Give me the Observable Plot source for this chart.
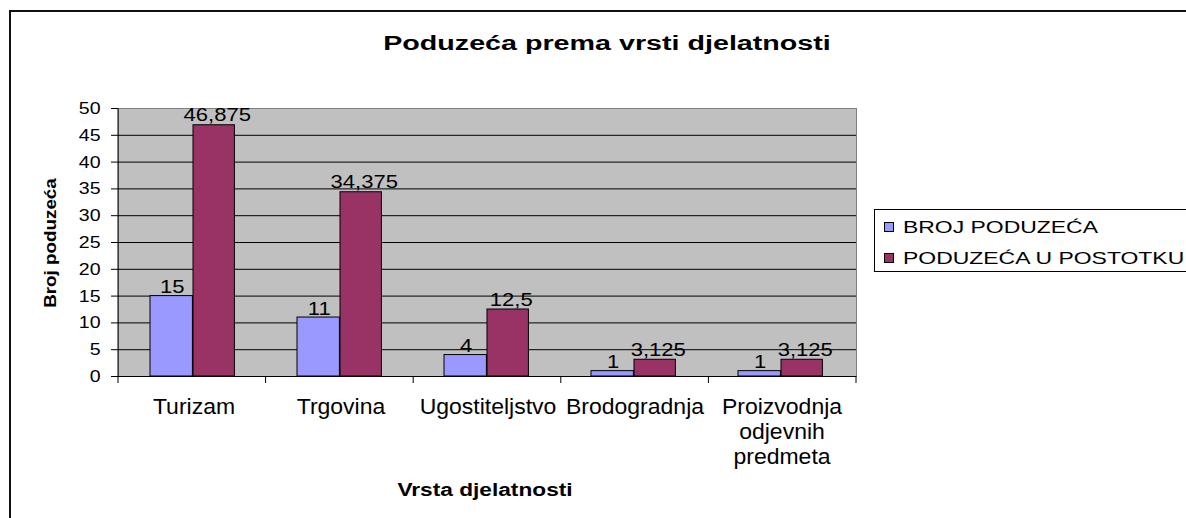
<!DOCTYPE html>
<html>
<head>
<meta charset="utf-8">
<script src="https://cdn.jsdelivr.net/npm/d3@7"></script>
<script src="https://cdn.jsdelivr.net/npm/@observablehq/plot@0.6"></script>
<style>
  html, body { margin: 0; padding: 0; background: #fff; overflow: hidden; }
  #wrap { position: relative; width: 1186px; height: 518px; overflow: hidden;
          font-family: "Liberation Sans", Arial, sans-serif; color: #000; background: #fff; }
  #wrap svg { position: absolute; left: 0; top: 0; }
  .border { position: absolute; left: 9px; top: 10px; width: 1400px; height: 800px;
            border: 2px solid #111; box-sizing: border-box; pointer-events: none; }
  .ttl { position: absolute; white-space: nowrap; line-height: normal; font-weight: bold; }
  .legend { position: absolute; left: 874px; top: 209px; width: 420px; height: 63px;
            border: 1px solid #000; box-sizing: border-box; background: #fff; }
  .lrow { position: absolute; left: 0; height: 18px; line-height: 18px; white-space: nowrap; font-size: 16.5px; }
  .sw { position: absolute; left: 9px; top: 4px; width: 8px; height: 8px; border: 1px solid #000; }
  .lt { position: absolute; left: 28px; top: 0; transform: scaleX(1.39); transform-origin: left center; }
</style>
</head>
<body>
<div id="wrap"><div class="border"></div></div>
<script>
// ---- data ----
const categories = ["Turizam", "Trgovina", "Ugostiteljstvo", "Brodogradnja", "Proizvodnja odjevnih predmeta"];
const brojPoduzeca = [15, 11, 4, 1, 1];
const postotak = [46.875, 34.375, 12.5, 3.125, 3.125];
const seriesNames = ["BROJ PODUZEĆA", "PODUZEĆA U POSTOTKU"];
const seriesColors = ["#9999FF", "#993366"];
const yTicks = [0, 5, 10, 15, 20, 25, 30, 35, 40, 45, 50];
const chartTitle = "Poduzeća prema vrsti djelatnosti";
const xTitle = "Vrsta djelatnosti";
const yTitle = "Broj poduzeća";

// ---- layout ----
const W = 1186, H = 518;
const mL = 118, mR = 330, mT = 108, mB = 142;
const bw = (W - mL - mR) / categories.length;

const s0 = categories.map((c, i) => ({cat: c, series: seriesNames[0], value: brojPoduzeca[i]}));
const s1 = categories.map((c, i) => ({cat: c, series: seriesNames[1], value: postotak[i]}));
const fmt = v => String(v).replace(".", ",");

// category boundary ticks + left axis line
function axisLines(index, scales, values, dimensions) {
  const {width, height, marginLeft, marginRight, marginTop, marginBottom} = dimensions;
  const x0 = marginLeft, x1 = width - marginRight, yb = height - marginBottom;
  const n = categories.length, step = (x1 - x0) / n;
  const g = d3.create("svg:g").attr("stroke", "#000").attr("stroke-width", 1);
  g.append("line").attr("x1", x0).attr("x2", x0).attr("y1", marginTop).attr("y2", yb);
  for (let i = 0; i <= n; i++) {
    const x = x0 + i * step;
    g.append("line").attr("x1", x).attr("x2", x).attr("y1", yb).attr("y2", yb + 7);
  }
  return g.node();
}

const plot = Plot.plot({
  width: W, height: H,
  marginLeft: mL, marginRight: mR, marginTop: mT, marginBottom: mB,
  style: {fontFamily: '"Liberation Sans", Arial, sans-serif', background: "transparent", color: "#000", overflow: "visible"},
  x: {type: "band", domain: categories, padding: 0},
  y: {domain: [0, 50]},
  color: {domain: seriesNames, range: seriesColors},
  marks: [
    Plot.frame({fill: "#C0C0C0", stroke: "#808080"}),
    Plot.ruleY(yTicks.filter(v => v > 0 && v < 50), {stroke: "#000"}),
    Plot.barY(s0, {x: "cat", y: "value", fill: "series", stroke: "#000", strokeWidth: 1, insetLeft: 30, insetRight: bw - 73}),
    Plot.barY(s1, {x: "cat", y: "value", fill: "series", stroke: "#000", strokeWidth: 1, insetLeft: 73, insetRight: bw - 115}),
    Plot.ruleY([0], {stroke: "#000"}),
    Plot.axisY({ticks: yTicks, tickSize: 7, tickPadding: 11, fontSize: 17, label: null}),
    Plot.axisX({tickSize: 0, tickPadding: 20, fontSize: 21.5, lineHeight: 1.16, label: null,
                tickFormat: d => d.split(" ").join("\n")}),
    axisLines,
    Plot.text(s0, {x: "cat", y: "value", text: d => fmt(d.value), dx: 52 - bw / 2, dy: -3, lineAnchor: "bottom", fontSize: 19}),
    Plot.text(s1, {x: "cat", y: "value", text: d => fmt(d.value), dx: 97 - bw / 2, dy: -4, lineAnchor: "bottom", fontSize: 19})
  ]
});

const wrap = document.getElementById("wrap");
wrap.insertBefore(plot, wrap.firstChild);

// horizontal stretch of SVG texts to match the reference's wide lettering
function stretch(selector, sx, ox) {
  plot.querySelectorAll(selector).forEach(t => {
    const b = t.getBBox();
    const cx = b.x + b.width * ox;
    const tr = t.getAttribute("transform") || "";
    t.setAttribute("transform", `${tr} translate(${cx},0) scale(${sx},1) translate(${-cx},0)`);
  });
}
stretch('g[aria-label="text"] text', 1.16, 0.5);
stretch('g[aria-label="x-axis tick label"] text', 1.07, 0.5);
stretch('g[aria-label="y-axis tick label"] text', 1.15, 1);

// titles
function addTitle(text, css, transform) {
  const d = document.createElement("div");
  d.className = "ttl";
  d.textContent = text;
  Object.assign(d.style, css);
  d.style.transform = transform;
  wrap.appendChild(d);
  return d;
}
addTitle(chartTitle, {left: "607px", top: "32px", fontSize: "19.5px"}, "translateX(-50%) scaleX(1.47)");
addTitle(xTitle, {left: "485px", top: "480px", fontSize: "18px"}, "translateX(-50%) scaleX(1.26)");
addTitle(yTitle, {left: "49.5px", top: "243px", fontSize: "16.5px"}, "translate(-50%,-50%) rotate(-90deg) scaleX(1.14)");

// legend
const legend = document.createElement("div");
legend.className = "legend";
seriesNames.forEach((name, i) => {
  const row = document.createElement("div");
  row.className = "lrow";
  row.style.top = (8 + i * 31) + "px";
  row.style.width = "400px";
  const sw = document.createElement("div");
  sw.className = "sw";
  sw.style.background = seriesColors[i];
  const lt = document.createElement("span");
  lt.className = "lt";
  lt.textContent = name;
  row.appendChild(sw);
  row.appendChild(lt);
  legend.appendChild(row);
});
wrap.appendChild(legend);
</script>
</body>
</html>
